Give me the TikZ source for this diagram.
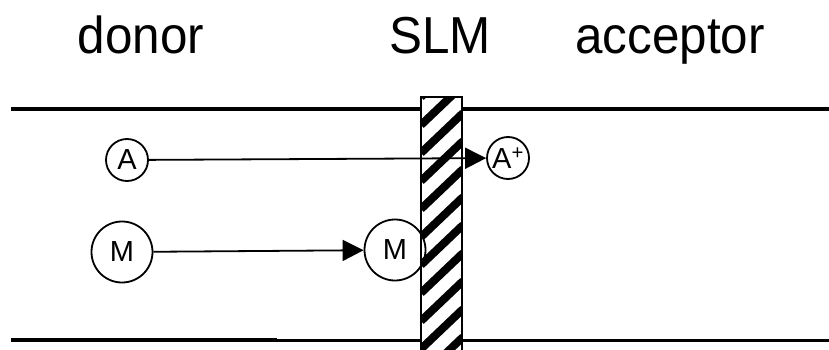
\documentclass[tikz,border=0pt]{standalone}
\usepackage{fontspec}
\setmainfont{Liberation Sans}
\usetikzlibrary{arrows.meta}
\tikzset{
  label text/.style={anchor=base, font=\fontsize{52}{60}\selectfont, xscale=0.95},
  ion/.style={draw, circle, line width=1.8pt, inner sep=0pt, minimum size=42pt, font=\fontsize{29}{32}\selectfont},
  molecule/.style={ion, minimum size=61pt},
  flux/.style={line width=1.8pt, -{Triangle[length=21pt,width=21pt]}}
}
\begin{document}
\begin{tikzpicture}[x=1pt,y=1pt]
  \useasboundingbox (0,0) rectangle (829,349);

  % Titulos de las fases
  \node[label text] (donor) at (141,295) {donor};
  \node[label text] (slm) at (440,295) {SLM};
  \node[label text] (acceptor) at (670,295) {acceptor};

  % Paredes del canal
  \draw[line width=4.5pt] (11,240) -- (829,240);
  \draw[line width=4.5pt] (11,9) -- (277,9);
  \draw[line width=3pt] (277,9) -- (421,9);
  \draw[line width=3pt] (462,9) -- (829,9);

  % Membrana liquida soportada (rayada)
  \fill[white] (421,-2) rectangle (462,252);
  \begin{scope}
    \clip (421,-2) rectangle (462,252);
    \foreach \k in {-3,...,10}
      \draw[line width=8pt] (421,\k*28) -- ++(42,40);
  \end{scope}
  \draw[line width=2pt] (421,-2) -- (421,252) -- (462,252) -- (462,-2);

  % Especies
  \node[ion] (A) at (127,189) {A};
  \node[ion] (Ap) at (508,191) {A\textsuperscript{+}};
  \node[molecule] (M) at (122,97) {M};
  \node[molecule] (Mm) at (395,99) {M};

  % Transporte
  \draw[flux] (A) -- (Ap);
  \draw[flux] (M) -- (Mm);
\end{tikzpicture}
\end{document}
